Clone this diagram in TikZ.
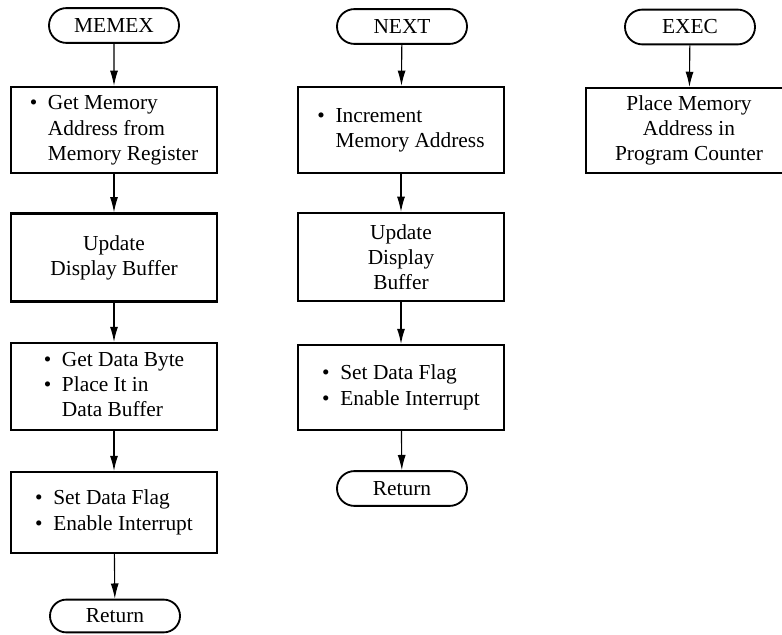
\documentclass[tikz,border=0pt]{standalone}
\usepackage{fontspec}
\setmainfont{Liberation Serif}
\usepackage{tikz}
\usetikzlibrary{arrows.meta,shapes.misc}

\newcommand{\blist}[1]{\begin{tabular}{@{}l@{\hspace{0.5em}}l@{}}#1\end{tabular}}
\newcommand{\bul}{\textbullet}

\begin{document}
\begin{tikzpicture}[x=0.025cm, y=-0.025cm,
  term/.style={draw, rounded rectangle, line width=1.3pt, minimum width=3.25cm, minimum height=0.87cm, inner sep=0pt, font=\fontsize{15.2}{17.8}\selectfont},
  proc/.style={draw, line width=1.6pt, minimum width=5.15cm, inner sep=0pt, align=center, font=\fontsize{15.2}{17.8}\selectfont},
  arr/.style={-{Latex[length=3.8mm,width=2mm]}, line width=0.8pt}
]
\useasboundingbox (0,0) rectangle (782,635);

% MEMEX
\node[term] (mt) at (114, 25.5) {MEMEX};
\node[proc, minimum height=2.15cm] (m1) at (114, 130) {\blist{\bul & Get Memory\\ & Address from\\ & Memory Register}};
\node[proc, minimum height=2.2cm]  (m2) at (114, 257.5) {Update\\Display Buffer};
\node[proc, minimum height=2.17cm] (m3) at (114, 386.5) {\blist{\bul & Get Data Byte\\ \bul & Place It in\\ & Data Buffer}};
\node[proc, minimum height=2.02cm] (m4) at (114, 512.5) {\blist{\bul & Set Data Flag\\ \bul & Enable Interrupt}};
\node[term, minimum height=0.82cm] (mr) at (115, 616) {Return};

% NEXT
\node[term] (nt) at (402, 26.5) {NEXT};
\node[proc, minimum height=2.15cm] (n1) at (401, 130) {\blist{\bul & Increment\\ & Memory Address}};
\node[proc, minimum height=2.2cm]  (n2) at (401, 257) {Update\\Display\\Buffer};
\node[proc, minimum height=2.12cm] (n3) at (401, 387.5) {\blist{\bul & Set Data Flag\\ \bul & Enable Interrupt}};
\node[term] (nr) at (402, 488.5) {Return};

% EXEC
\node[term] (et) at (690, 27) {EXEC};
\node[proc, minimum height=2.12cm] (e1) at (689, 130.5) {Place Memory\\Address in\\Program Counter};

\draw[arr] (mt) -- (m1);
\draw[arr] (m1) -- (m2);
\draw[arr] (m2) -- (m3);
\draw[arr] (m3) -- (m4);
\draw[arr] (m4) -- (mr);

\draw[arr] (nt) -- (n1);
\draw[arr] (n1) -- (n2);
\draw[arr] (n2) -- (n3);
\draw[arr] (n3) -- (nr);

\draw[arr] (et) -- (e1);

\end{tikzpicture}
\end{document}
